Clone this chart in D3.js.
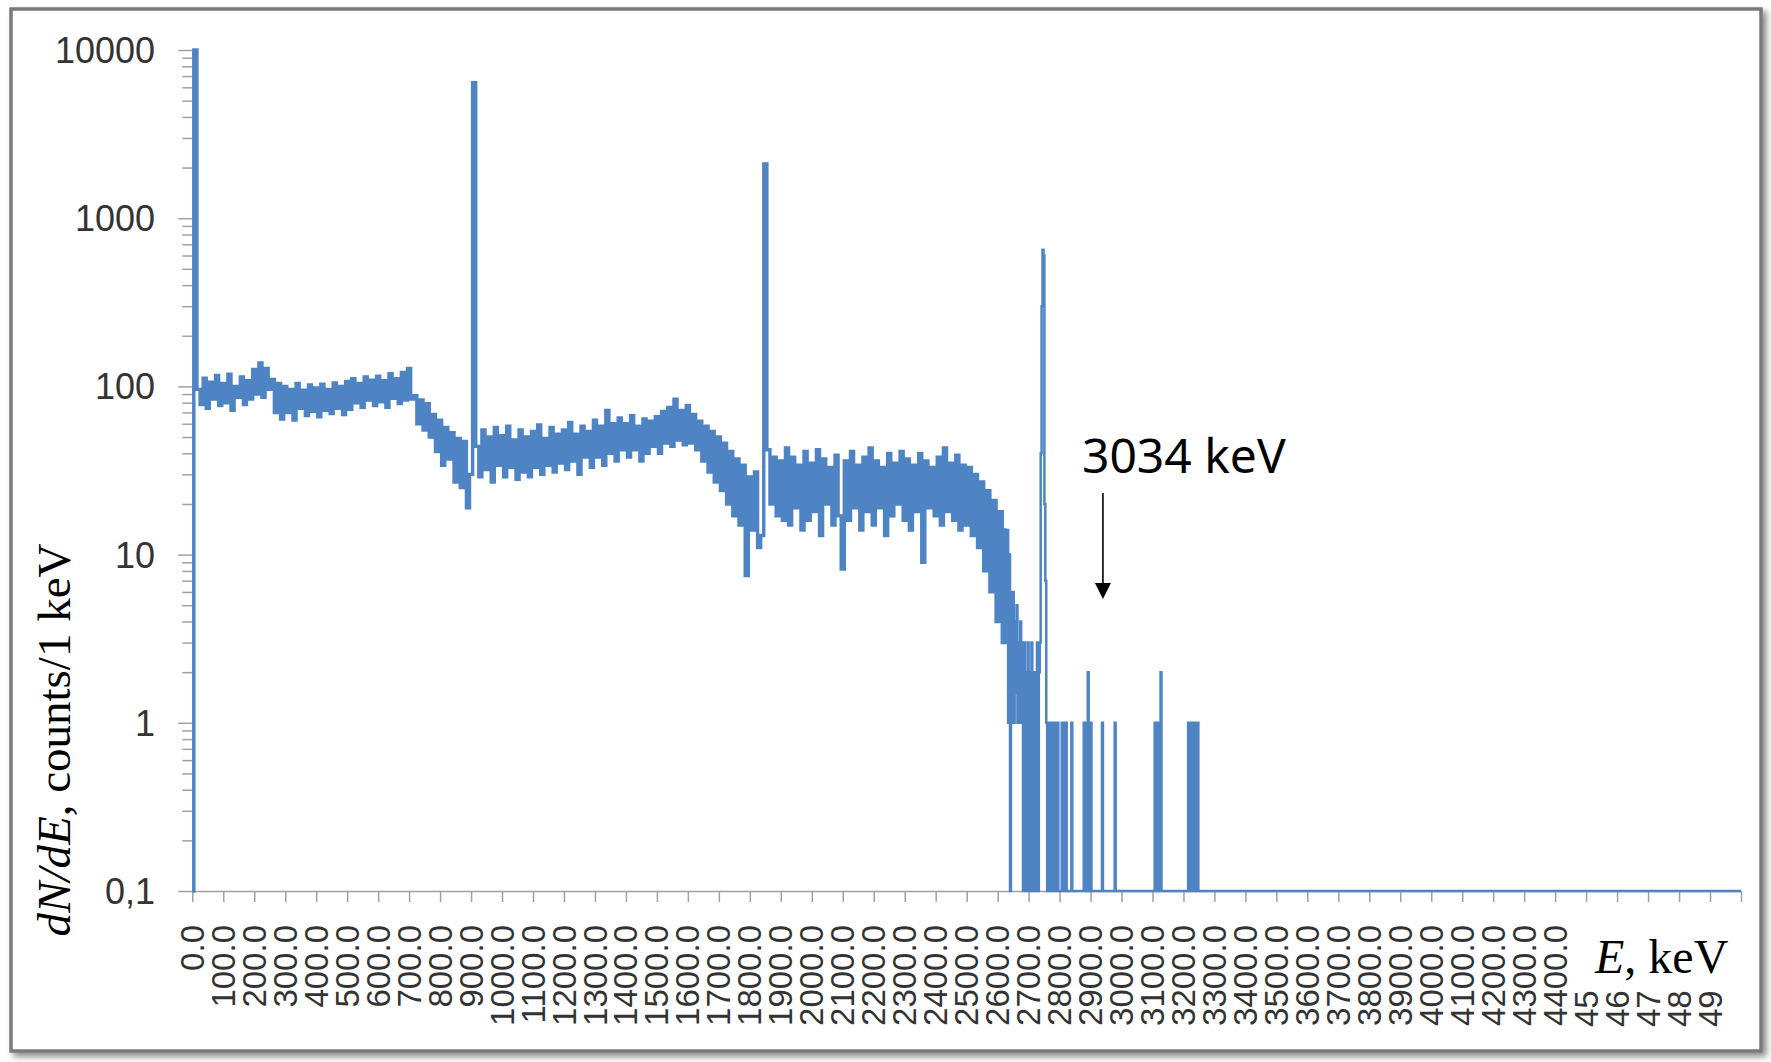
<!DOCTYPE html>
<html>
<head>
<meta charset="utf-8">
<script src="https://cdn.jsdelivr.net/npm/d3@7"></script>
<style>
  body { margin: 0; background: #fff; }
</style>
</head>
<body>
<div id="chart"></div>
<script>
// spectrum, 10 keV bins starting at 0
const binWidth = 10;
const counts = [
  0.1, 10000, 96, 78, 112, 74, 106, 84, 116, 77,
  104, 80, 118, 72, 100, 86, 114, 78, 108, 84,
  126, 90, 138, 86, 128, 96, 110, 70, 104, 64,
  100, 70, 96, 63, 104, 74, 95, 67, 102, 71,
  98, 66, 103, 72, 96, 69, 105, 74, 100, 68,
  107, 73, 111, 80, 104, 75, 114, 83, 109, 77,
  115, 81, 108, 75, 119, 85, 111, 79, 121, 83,
  128, 84, 88, 60, 83, 55, 79, 50, 68, 41,
  63, 34, 57, 37, 53, 27, 49, 25, 47, 19,
  30, 6400, 44, 29, 55, 32, 50, 27, 57, 34,
  51, 29, 58, 33, 48, 28, 55, 31, 50, 29,
  54, 33, 59, 30, 49, 34, 57, 31, 52, 35,
  55, 32, 61, 36, 52, 30, 58, 38, 54, 33,
  63, 38, 58, 34, 72, 40, 60, 36, 65, 42,
  60, 38, 67, 42, 58, 36, 64, 40, 62, 44,
  66, 40, 71, 46, 75, 44, 84, 48, 72, 45,
  77, 46, 68, 42, 62, 36, 58, 31, 54, 27,
  50, 24, 46, 20, 41, 17, 37, 15, 34, 7.5,
  29, 14, 31, 11, 13, 2100, 42, 20, 38, 17,
  36, 16, 43, 15, 38, 19, 34, 14, 41, 16,
  35, 18, 42, 13, 37, 20, 33, 15, 39, 17,
  8.2, 36, 16, 41, 19, 34, 14, 38, 18, 43,
  15, 36, 19, 33, 13, 40, 17, 35, 20, 41,
  16, 37, 14, 34, 18, 40, 9, 36, 19, 33,
  17, 38, 15, 43, 18, 35, 16, 39, 14, 34,
  15, 33, 13, 30, 11, 27, 8, 24, 6, 21,
  4, 18, 3, 14
];

// high energy part: sparse counts, drawn as steps
const tailEnergy = [
  2630, 2634, 2637, 2640, 2643, 2646, 2649, 2652, 2655, 2658,
  2661, 2664, 2667, 2670, 2673, 2676, 2679, 2682, 2685, 2688,
  2691, 2694, 2697, 2700, 2703, 2706, 2709, 2712, 2715, 2718,
  2721, 2724, 2727, 2730, 2733, 2736, 2739, 2742, 2745, 2748,
  2751, 2754, 2757, 2760, 2763, 2766, 2769, 2772, 2775, 2778,
  2781, 2784, 2787, 2790, 2793, 2796, 2807, 2810, 2813, 2816,
  2820, 2823, 2838, 2841, 2878, 2881, 2884, 2887, 2891, 2894,
  2897, 2900, 2903, 2937, 2940, 2978, 2981, 3107, 3110, 3113,
  3116, 3120, 3123, 3126, 3129, 3215, 3218, 3221, 3224, 3227,
  3230, 3233, 3236, 3239, 3242, 3245, 3248, 5000
];
const tailCounts = [
  14, 1, 10, 0.1, 6, 1, 6, 1, 4, 1.5,
  5, 1, 3, 1, 4, 1, 3, 0.1, 3, 0.1,
  2, 0.1, 3, 0.1, 2, 0.1, 3, 0.1, 2, 0.1,
  2, 0.1, 3, 0.1, 2, 3, 40, 300, 650, 600,
  20, 7, 1, 0.1, 1, 0.1, 1, 0.1, 1, 0.1,
  1, 0.1, 1, 0.1, 1, 0.1, 1, 0.1, 1, 0.1,
  1, 0.1, 1, 0.1, 1, 0.1, 1, 0.1, 2, 1,
  0.1, 1, 0.1, 1, 0.1, 1, 0.1, 1, 0.1, 1,
  0.1, 1, 0.1, 2, 0.1, 1, 0.1, 1, 0.1, 1,
  0.1, 1, 0.1, 1, 0.1, 1, 0.1, 0.1
];

const yTicks = [10000, 1000, 100, 10, 1, 0.1];
const yTickLabels = ["10000", "1000", "100", "10", "1", "0,1"];

const xTicks = [
  0, 100, 200, 300, 400, 500, 600, 700, 800, 900,
  1000, 1100, 1200, 1300, 1400, 1500, 1600, 1700, 1800, 1900,
  2000, 2100, 2200, 2300, 2400, 2500, 2600, 2700, 2800, 2900,
  3000, 3100, 3200, 3300, 3400, 3500, 3600, 3700, 3800, 3900,
  4000, 4100, 4200, 4300, 4400, 4500, 4600, 4700, 4800, 4900
];
const xTickLabels = [
  "0.0", "100.0", "200.0", "300.0", "400.0", "500.0", "600.0", "700.0", "800.0", "900.0",
  "1000.0", "1100.0", "1200.0", "1300.0", "1400.0", "1500.0", "1600.0", "1700.0", "1800.0", "1900.0",
  "2000.0", "2100.0", "2200.0", "2300.0", "2400.0", "2500.0", "2600.0", "2700.0", "2800.0", "2900.0",
  "3000.0", "3100.0", "3200.0", "3300.0", "3400.0", "3500.0", "3600.0", "3700.0", "3800.0", "3900.0",
  "4000.0", "4100.0", "4200.0", "4300.0", "4400.0", "45", "46", "47", "48", "49"
];

const annotationEnergy = 2940;
const annotationText = "3034 keV";

const W = 1771, H = 1062;
const plot = {left: 192.3, right: 1741, top: 50, bottom: 891};
const blue = "#4f84c4";
const axisGrey = "#a0a0a0";

const svg = d3.select("#chart").append("svg")
  .attr("width", W)
  .attr("height", H)
  .style("display", "block");

// frame with shadow
const defs = svg.append("defs");
defs.append("filter")
  .attr("id", "shadow")
  .attr("x", "-2%").attr("y", "-2%")
  .attr("width", "104%").attr("height", "104%")
  .append("feDropShadow")
  .attr("dx", 4).attr("dy", 4)
  .attr("stdDeviation", 3)
  .attr("flood-color", "#000")
  .attr("flood-opacity", 0.45);

svg.append("rect")
  .attr("x", 11).attr("y", 9)
  .attr("width", 1750).attr("height", 1042)
  .attr("fill", "#fff")
  .attr("stroke", "#7a7a7a")
  .attr("stroke-width", 3.5)
  .attr("filter", "url(#shadow)");

const x = d3.scaleLinear().domain([0, 5000]).range([plot.left, plot.right]);
const y = d3.scaleLog().domain([0.1, 10000]).range([plot.bottom, plot.top]);

// y axis: minor then major ticks
const minorTicks = y.ticks().filter(v => !yTicks.some(t => Math.abs(t - v) < 1e-9));
svg.append("g")
  .attr("transform", `translate(${plot.left},0)`)
  .call(d3.axisLeft(y).tickValues(minorTicks).tickSize(10).tickFormat(""))
  .call(g => g.select(".domain").remove())
  .call(g => g.selectAll("line").attr("stroke", axisGrey).attr("stroke-width", 1.5));

svg.append("g")
  .attr("transform", `translate(${plot.left},0)`)
  .call(d3.axisLeft(y).tickValues(yTicks).tickSize(14).tickSizeOuter(0).tickFormat(""))
  .call(g => g.select(".domain").attr("stroke", axisGrey).attr("stroke-width", 1.5))
  .call(g => g.selectAll("line").attr("stroke", axisGrey).attr("stroke-width", 1.5));

svg.append("g")
  .selectAll("text")
  .data(yTicks)
  .join("text")
  .attr("x", 155)
  .attr("y", d => y(d))
  .attr("dy", "0.36em")
  .attr("text-anchor", "end")
  .attr("font-family", "Liberation Sans, Arial, sans-serif")
  .attr("font-size", 36)
  .attr("fill", "#333")
  .text((d, i) => yTickLabels[i]);

// x axis
svg.append("g")
  .attr("transform", `translate(0,${plot.bottom})`)
  .call(d3.axisBottom(x).tickValues(xTicks.concat([5000])).tickSize(11).tickSizeOuter(0).tickFormat(""))
  .call(g => g.select(".domain").attr("stroke", axisGrey).attr("stroke-width", 1.5))
  .call(g => g.selectAll("line").attr("stroke", axisGrey).attr("stroke-width", 1.5));

svg.append("g")
  .selectAll("text")
  .data(xTicks)
  .join("text")
  .attr("transform", (d, i) => {
    const yy = xTickLabels[i].includes(".") ? 925 : 1027;
    return `translate(${x(d)},${yy}) rotate(-90)`;
  })
  .attr("dy", "0.35em")
  .attr("text-anchor", (d, i) => xTickLabels[i].includes(".") ? "end" : "start")
  .attr("font-family", "Liberation Sans, Arial, sans-serif")
  .attr("font-size", 33)
  .attr("fill", "#333")
  .text((d, i) => xTickLabels[i]);

// spectrum line
const mainPts = counts.map((c, i) => [i * binWidth, c]);
const tailPts = tailEnergy.map((e, i) => [e, tailCounts[i]]);

const stepMid = d3.line().x(d => x(d[0])).y(d => y(d[1])).curve(d3.curveStep);
const stepLine = d3.line().x(d => x(d[0])).y(d => y(d[1])).curve(d3.curveStepAfter);

svg.append("path")
  .datum(tailPts)
  .attr("d", stepLine)
  .attr("fill", "none")
  .attr("stroke", blue)
  .attr("stroke-width", 2.5);

svg.append("path")
  .datum(mainPts)
  .attr("d", stepMid)
  .attr("fill", "none")
  .attr("stroke", blue)
  .attr("stroke-width", 3.4);

// axis titles
const yTitle = svg.append("text")
  .attr("transform", "translate(70,740) rotate(-90)")
  .attr("text-anchor", "middle")
  .attr("font-family", "Liberation Serif, Times New Roman, serif")
  .attr("font-size", 47)
  .attr("fill", "#000");
yTitle.append("tspan").attr("font-style", "italic").text("dN/dE");
yTitle.append("tspan").text(", counts/1 keV");

const xTitle = svg.append("text")
  .attr("x", 1595)
  .attr("y", 973)
  .attr("font-family", "Liberation Serif, Times New Roman, serif")
  .attr("font-size", 48)
  .attr("fill", "#000");
xTitle.append("tspan").attr("font-style", "italic").text("E");
xTitle.append("tspan").text(", keV");

// annotation with arrow
const ax = x(annotationEnergy);
svg.append("text")
  .attr("x", ax - 21)
  .attr("y", 473)
  .attr("font-family", "Comic Sans MS, Noto Sans, sans-serif")
  .attr("font-size", 48)
  .attr("fill", "#000")
  .text(annotationText);

svg.append("line")
  .attr("x1", ax).attr("x2", ax)
  .attr("y1", 493).attr("y2", 586)
  .attr("stroke", "#000")
  .attr("stroke-width", 1.6);

svg.append("path")
  .attr("d", `M${ax - 8},583 L${ax + 8},583 L${ax},599 Z`)
  .attr("fill", "#000");
</script>
</body>
</html>
